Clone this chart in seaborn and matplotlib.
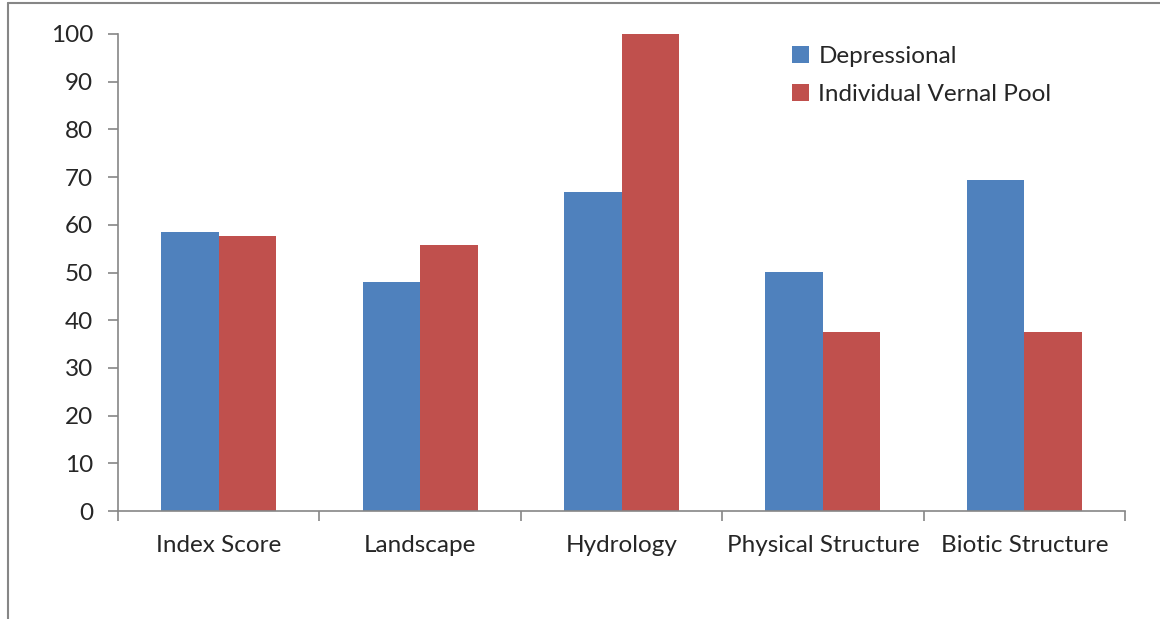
import matplotlib
matplotlib.use("Agg")
import matplotlib.pyplot as plt
import seaborn as sns
import pandas as pd
import numpy as np
from matplotlib.lines import Line2D

categories = ["Index Score", "Landscape", "Hydrology", "Physical Structure", "Biotic Structure"]
depressional = [58.5, 48.0, 66.8, 50.1, 69.4]
vernal_pool = [57.6, 55.7, 100.0, 37.5, 37.5]
series_names = ["Depressional", "Individual Vernal Pool"]
y_ticks = [0, 10, 20, 30, 40, 50, 60, 70, 80, 90, 100]

df = pd.DataFrame({
    "category": categories * 2,
    "value": depressional + vernal_pool,
    "series": [series_names[0]] * len(categories) + [series_names[1]] * len(categories),
})

sns.set_style("white")
plt.rcParams["font.family"] = ["Lato", "DejaVu Sans"]

fig = plt.figure(figsize=(11.6, 6.19), dpi=100)
ax = fig.add_axes([118/1160, 1 - 511/619, (1125-118)/1160, (511-34)/619])

sns.barplot(data=df, x="category", y="value", hue="series",
            palette=["#4F81BD", "#C0504D"], width=0.571, ax=ax,
            saturation=1, errorbar=None, order=categories, hue_order=series_names,
            linewidth=0, edgecolor="none")

ax.set_xlim(-0.5, len(categories) - 0.5)
ax.set_ylim(0, 100)
ax.set_yticks(y_ticks)
ax.set_xlabel("")
ax.set_ylabel("")

gray = "#868686"
for s in ["top", "right"]:
    ax.spines[s].set_visible(False)
for s in ["left", "bottom"]:
    ax.spines[s].set_color(gray)
    ax.spines[s].set_linewidth(1.2)

fs = 17.5
ax.tick_params(axis="y", direction="out", length=7, width=1.2, color=gray,
               labelsize=fs, pad=11, left=True)
ax.tick_params(axis="x", which="major", length=0, labelsize=fs, pad=17)
ax.set_xticks(np.arange(-0.5, len(categories), 1.0), minor=True)
ax.tick_params(axis="x", which="minor", direction="out", length=7, width=1.2,
               color=gray, bottom=True)

leg = ax.legend(loc="upper left", bbox_to_anchor=(782/1160, 1 - 36/619),
                bbox_transform=fig.transFigure, frameon=False, fontsize=fs,
                handlelength=0.7, handleheight=0.7, handletextpad=0.4,
                labelspacing=0.72, borderaxespad=0)

# outer chart frame (partially visible)
fig.add_artist(Line2D([8/1160, 8/1160], [0, 1 - 3/619], transform=fig.transFigure,
                      color=gray, linewidth=1.5))
fig.add_artist(Line2D([8/1160, 1], [1 - 3/619, 1 - 3/619], transform=fig.transFigure,
                      color=gray, linewidth=1.5))

fig.savefig("out.png", dpi=100, facecolor="white")
